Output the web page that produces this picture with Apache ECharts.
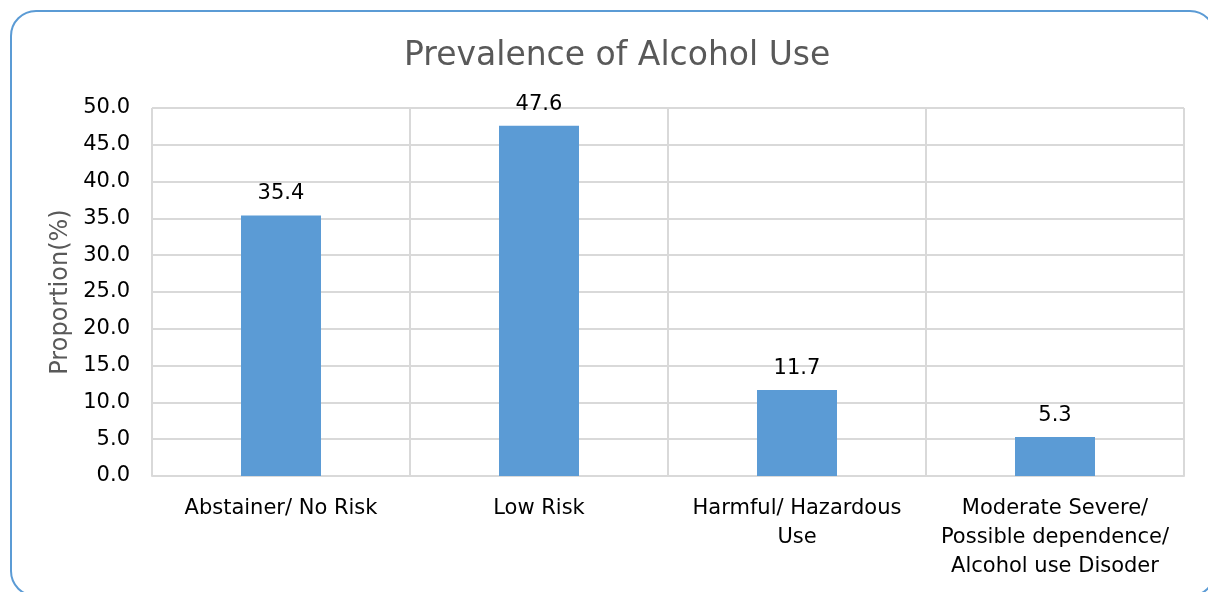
<!DOCTYPE html>
<html>
<head>
<meta charset="utf-8">
<script src="https://cdn.jsdelivr.net/npm/echarts@6/dist/echarts.min.js"></script>
<style>
  html, body { margin: 0; padding: 0; background: #fff; overflow: hidden; }
  #chart { position: absolute; left: 0; top: 0; width: 1208px; height: 592px; }
  #frame { position: absolute; left: 10px; top: 10px; width: 1206px; height: 587px;
           border: 2px solid #5b9bd5; border-radius: 26px; box-sizing: border-box; pointer-events: none; }
</style>
</head>
<body>
<div id="chart"></div>
<div id="frame"></div>
<script>
const categories = [
  'Abstainer/ No Risk',
  'Low Risk',
  'Harmful/ Hazardous\nUse',
  'Moderate Severe/\nPossible dependence/\nAlcohol use Disoder'
];
const proportions = [35.4, 47.6, 11.7, 5.3];

const font = 'DejaVu Sans';
const chart = echarts.init(document.getElementById('chart'));
chart.setOption({
  animation: false,
  textStyle: { fontFamily: font },
  title: {
    text: 'Prevalence of Alcohol Use',
    left: 399,
    top: 35,
    textStyle: { fontSize: 33, fontWeight: 'normal', color: '#595959', fontFamily: font }
  },
  grid: { left: 152, right: 24, top: 108, bottom: 116 },
  xAxis: {
    type: 'category',
    data: categories,
    axisTick: { show: false },
    axisLine: { lineStyle: { color: '#d9d9d9', width: 2 } },
    splitLine: { show: true, lineStyle: { color: '#d9d9d9', width: 2 } },
    axisLabel: { color: '#000', fontSize: 21, lineHeight: 29, margin: 18, interval: 0 }
  },
  yAxis: {
    type: 'value',
    min: 0,
    max: 50,
    interval: 5,
    name: 'Proportion(%)',
    nameLocation: 'middle',
    nameGap: 76,
    nameTextStyle: { fontSize: 24, color: '#595959' },
    axisLine: { show: false },
    axisTick: { show: false },
    splitLine: { lineStyle: { color: '#d9d9d9', width: 2 } },
    axisLabel: { color: '#000', fontSize: 21, margin: 22, formatter: v => v.toFixed(1) }
  },
  series: [{
    type: 'bar',
    data: proportions,
    barWidth: 80,
    itemStyle: { color: '#5b9bd5' },
    label: { show: true, position: 'top', distance: 11, color: '#000', fontSize: 21,
             formatter: p => p.value.toFixed(1) }
  }]
});
</script>
</body>
</html>
